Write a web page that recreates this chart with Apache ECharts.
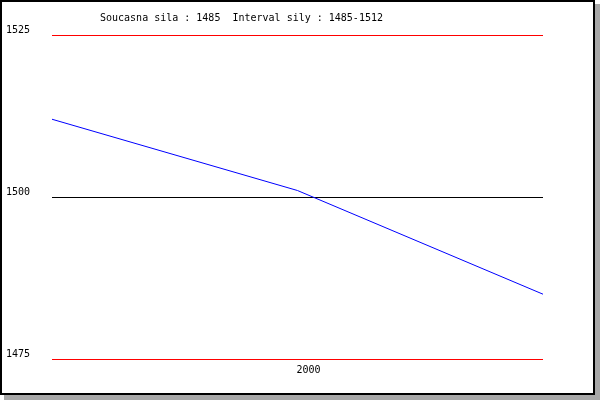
<!DOCTYPE html>
<html>
<head>
<meta charset="utf-8">
<script src="https://cdn.jsdelivr.net/npm/echarts@6/dist/echarts.min.js"></script>
<style>
html,body{margin:0;padding:0;background:#fff;}
#c{width:600px;height:400px;}
</style>
</head>
<body>
<div id="c"></div>
<script>
var titleText = 'Soucasna sila : 1485  Interval sily : 1485-1512';
var categories = ['', '2000', ''];
var values = [1512, 1501, 1485];
var yMin = 1475, yMax = 1525, yStep = 25;

var chart = echarts.init(document.getElementById('c'), null, {renderer: 'canvas'});
var font = 'DejaVu Sans Mono';
chart.setOption({
  animation: false,
  backgroundColor: 'transparent',
  graphic: [
    {type: 'rect', z: -20, silent: true, shape: {x: 4, y: 4, width: 596, height: 396}, style: {fill: '#a8a8a8'}},
    {type: 'rect', z: -19, silent: true, shape: {x: 1, y: 1, width: 593, height: 393}, style: {fill: '#ffffff', stroke: '#000000', lineWidth: 2}}
  ],
  title: {
    text: titleText,
    left: 95, top: 8,
    textStyle: {fontFamily: font, fontSize: 10, fontWeight: 'normal', color: '#000'}
  },
  grid: {left: 52, right: 57, top: 35, bottom: 41},
  xAxis: {
    type: 'category',
    data: categories,
    boundaryGap: false,
    axisLine: {show: false},
    axisTick: {show: false},
    splitLine: {show: false},
    axisLabel: {interval: 0, margin: 6, fontFamily: font, fontSize: 10, color: '#000', padding: [0, 0, 0, 22]}
  },
  yAxis: {
    type: 'value',
    min: yMin, max: yMax, interval: yStep,
    axisLine: {show: false},
    axisTick: {show: false},
    axisLabel: {align: 'left', verticalAlign: 'bottom', margin: 46, fontFamily: font, fontSize: 10, color: '#000', padding: [0,0,0,0],
      formatter: function (v) { return String(v); }},
    splitLine: {show: true, lineStyle: {color: ['#ff0000', '#000000', '#ff0000'], width: 1}}
  },
  series: [{
    type: 'line',
    data: values,
    showSymbol: false,
    symbol: 'none',
    lineStyle: {color: '#0000ff', width: 1},
    itemStyle: {color: '#0000ff'}
  }]
});
</script>
</body>
</html>
